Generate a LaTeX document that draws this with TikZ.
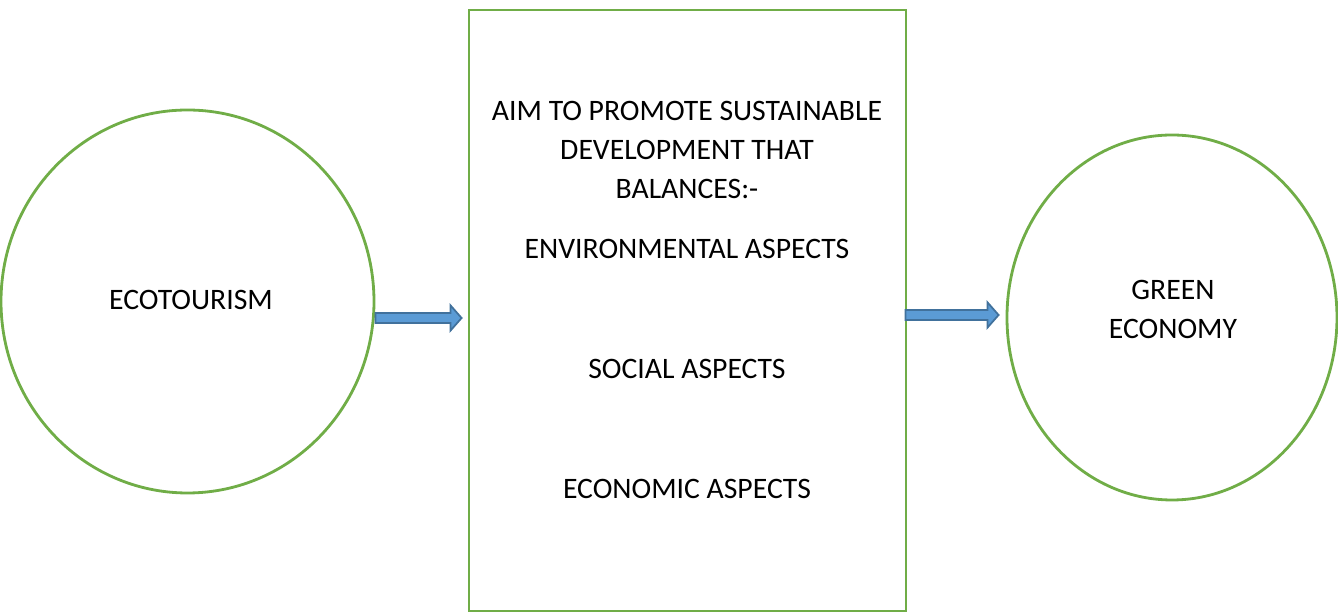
\documentclass[tikz,border=0pt]{standalone}
\usepackage{fontspec}
\setmainfont{Carlito}
\usepackage{tikz}
\usetikzlibrary{calc,shapes.geometric}

\definecolor{leafgreen}{RGB}{112,173,71}
\definecolor{arrowfill}{RGB}{91,155,213}
\definecolor{arrowline}{RGB}{65,113,156}

\tikzset{
	roundbox/.style={draw=leafgreen, line width=0.8pt, ellipse, inner sep=0pt},
	aimbox/.style={draw=leafgreen, line width=0.8pt, rectangle, inner sep=0pt},
	txt/.style={font=\fontsize{8.45}{11.1}\selectfont, align=center, inner sep=0pt},
	fatarrow/.style={draw=arrowline, fill=arrowfill, line width=0.5pt, line join=miter}
}

% block arrow from #1 to #2 (horizontal)
\newcommand{\fatarrow}[2]{
	\draw[fatarrow] ($(#1)+(0,0.05)$) -- ($(#2)+(-0.11,0.05)$) -- ($(#2)+(-0.11,0.125)$)
		-- (#2) -- ($(#2)+(-0.11,-0.125)$) -- ($(#2)+(-0.11,-0.05)$)
		-- ($(#1)+(0,-0.05)$) -- cycle;
}

\begin{document}
\begin{tikzpicture}[x=1cm,y=1cm]

\useasboundingbox (0,0) rectangle (13.38,6.12);

% left circle
\node[roundbox, minimum width=3.73cm, minimum height=3.83cm] (left) at (1.875,3.105) {};
\node[txt] (eco) at (1.91,3.12) {ECOTOURISM};

% middle box
\node[aimbox, minimum width=4.37cm, minimum height=6.01cm] (box) at (6.875,3.015) {};
\node[txt] (aim) at (6.87,4.62) {AIM TO PROMOTE SUSTAINABLE\\DEVELOPMENT THAT\\BALANCES:-};
\node[txt] (env) at (6.87,3.63) {ENVIRONMENTAL ASPECTS};
\node[txt] (soc) at (6.87,2.43) {SOCIAL ASPECTS};
\node[txt] (ecn) at (6.87,1.23) {ECONOMIC ASPECTS};

% right circle
\node[roundbox, minimum width=3.3cm, minimum height=3.65cm] (right) at (11.72,2.945) {};
\node[txt] (green) at (11.73,3.03) {GREEN\\ECONOMY};

% arrows
\coordinate (a1s) at ($(left.east)+(0,-0.165)$);
\coordinate (a1e) at ($(box.west |- a1s)+(-0.06,0)$);
\coordinate (a2s) at ($(box.east)+(-0.02,-0.045)$);
\coordinate (a2e) at ($(right.west |- a2s)+(-0.07,0)$);
\fatarrow{a1s}{a1e}
\fatarrow{a2s}{a2e}

\end{tikzpicture}
\end{document}
